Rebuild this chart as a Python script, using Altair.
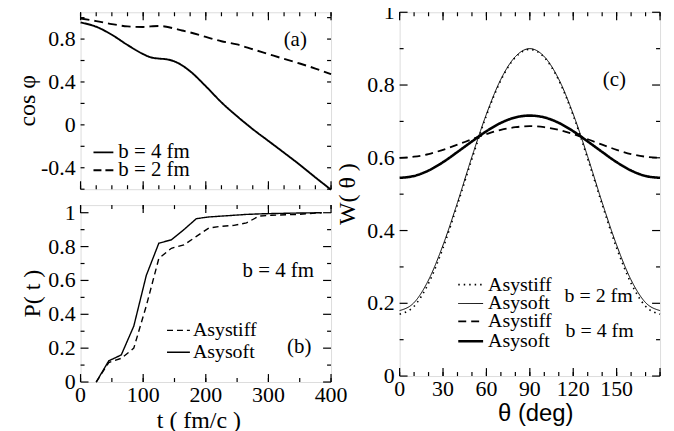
import altair as alt
import pandas as pd

SERIF = "Liberation Serif"
SANS = "Liberation Sans"

# ---------------- data ----------------
# panel (a): cos(phi) vs t
t_a = [0, 25, 50, 75, 100, 112, 125, 137, 150, 162, 175, 200, 225, 250, 275, 300, 325, 350, 375, 400]
cos_b4 = [0.955, 0.915, 0.84, 0.745, 0.66, 0.63, 0.618, 0.612, 0.592, 0.555, 0.50, 0.36, 0.21, 0.08,
          -0.04, -0.15, -0.26, -0.372, -0.49, -0.605]
cos_b2 = [0.992, 0.968, 0.94, 0.918, 0.913, 0.918, 0.922, 0.915, 0.898, 0.88, 0.862, 0.82, 0.78, 0.75,
          0.705, 0.66, 0.615, 0.572, 0.525, 0.472]

# panel (b): P(t) vs t, b = 4 fm
t_b = [25, 45, 65, 85, 105, 125, 145, 165, 185, 205, 225, 245, 265, 285, 305, 345, 385]
p_soft = [0.0, 0.125, 0.16, 0.33, 0.63, 0.82, 0.84, 0.90, 0.965, 0.975, 0.98, 0.985, 0.99, 0.993, 0.995, 0.998, 1.0]
p_stiff = [0.0, 0.115, 0.14, 0.20, 0.45, 0.73, 0.79, 0.81, 0.86, 0.91, 0.92, 0.925, 0.94, 0.98, 0.985, 0.99, 1.0]

# panel (c): W(theta) vs theta
theta = [0, 10, 20, 30, 40, 50, 60, 70, 80, 90, 100, 110, 120, 130, 140, 150, 160, 170, 180]
w_stiff_b2 = [0.170, 0.192, 0.255, 0.352, 0.471, 0.597, 0.716, 0.813, 0.876, 0.898,
              0.876, 0.813, 0.716, 0.597, 0.471, 0.352, 0.255, 0.192, 0.170]
w_soft_b2 = [0.180, 0.202, 0.264, 0.360, 0.477, 0.603, 0.720, 0.816, 0.878, 0.900,
             0.878, 0.816, 0.720, 0.603, 0.477, 0.360, 0.264, 0.202, 0.180]
w_stiff_b4 = [0.600, 0.603, 0.610, 0.622, 0.636, 0.651, 0.665, 0.677, 0.684, 0.687,
              0.684, 0.677, 0.665, 0.651, 0.636, 0.622, 0.610, 0.603, 0.600]
w_soft_b4 = [0.545, 0.550, 0.565, 0.588, 0.616, 0.645, 0.673, 0.696, 0.711, 0.716,
             0.711, 0.696, 0.673, 0.645, 0.616, 0.588, 0.565, 0.550, 0.545]

# tick values and tick labels
a_xminor = list(range(0, 401, 25))
a_xmajor = list(range(0, 401, 100))
a_yminor = [-0.6, -0.4, -0.2, 0.0, 0.2, 0.4, 0.6, 0.8, 1.0]
a_ylab_v = [-0.4, 0.0, 0.4, 0.8]
a_ylab_t = ["-0.4", "0", "0.4", "0.8"]
b_xminor = list(range(0, 401, 50))
b_xmajor = list(range(0, 401, 100))
b_xlab_t = ["0", "100", "200", "300", "400"]
b_yminor = [0.1, 0.3, 0.5, 0.7, 0.9]
b_ymajor = [0.0, 0.2, 0.4, 0.6, 0.8, 1.0]
b_ylab_t = ["0", "0.2", "0.4", "0.6", "0.8", "1"]
c_xminor = list(range(0, 181, 10))
c_xmajor = list(range(0, 181, 30))
c_xlab_v = [0, 30, 60, 90, 120, 150]
c_xlab_t = ["0", "30", "60", "90", "120", "150"]
c_yminor = [0.1, 0.3, 0.5, 0.7, 0.9]
c_ymajor = [0.0, 0.2, 0.4, 0.6, 0.8, 1.0]
c_ylab_t = ["0", "0.2", "0.4", "0.6", "0.8", "1"]

MAJ, MIN = 8, 4
LFS = 22   # tick label size
TFS = 24   # axis title size


def ticks(xvals, yvals, xmaj, ymaj, xs, ys, W, H):
    layers = []
    for vals, ln in ((xvals, MIN), (xmaj, MAJ)):
        d = pd.DataFrame({"v": vals})
        base = alt.Chart(d).mark_rule(color="black", strokeWidth=1.2)
        layers.append(base.encode(x=alt.X("v:Q", scale=xs, axis=None), y=alt.value(H), y2=alt.value(H - ln)))
        layers.append(base.encode(x=alt.X("v:Q", scale=xs, axis=None), y=alt.value(0), y2=alt.value(ln)))
    for vals, ln in ((yvals, MIN), (ymaj, MAJ)):
        if not vals:
            continue
        d = pd.DataFrame({"v": vals})
        base = alt.Chart(d).mark_rule(color="black", strokeWidth=1.2)
        layers.append(base.encode(y=alt.Y("v:Q", scale=ys, axis=None), x=alt.value(0), x2=alt.value(ln)))
        layers.append(base.encode(y=alt.Y("v:Q", scale=ys, axis=None), x=alt.value(W), x2=alt.value(W - ln)))
    return layers


def xlabels(vals, texts, xs, H, dy=13):
    d = pd.DataFrame({"v": vals, "s": texts})
    return alt.Chart(d).mark_text(align="center", baseline="middle", font=SERIF, fontSize=LFS,
                                  color="black").encode(
        x=alt.X("v:Q", scale=xs, axis=None), y=alt.value(H + dy), text="s:N")


def ylabels(vals, texts, ys, dx=-5):
    d = pd.DataFrame({"v": vals, "s": texts})
    return alt.Chart(d).mark_text(align="right", baseline="middle", font=SERIF, fontSize=LFS,
                                  color="black").encode(
        y=alt.Y("v:Q", scale=ys, axis=None), x=alt.value(dx), text="s:N")


def label(txt, x, y, align="left", size=20, font=SERIF, angle=0):
    return alt.Chart(pd.DataFrame({"t": [txt]})).mark_text(
        text=txt, align=align, baseline="middle", font=font, fontSize=size, color="black", angle=angle
    ).encode(x=alt.value(x), y=alt.value(y))


def sample(x1, x2, y, dash, width):
    return alt.Chart(pd.DataFrame({"t": [0]})).mark_rule(
        color="black", strokeWidth=width, strokeDash=dash
    ).encode(x=alt.value(x1), x2=alt.value(x2), y=alt.value(y))


def line(t, v, xs, ys, dash, width, interp="monotone"):
    d = pd.DataFrame({"t": t, "v": v})
    return alt.Chart(d).mark_line(color="black", strokeWidth=width, strokeDash=dash, interpolate=interp).encode(
        x=alt.X("t:Q", scale=xs, axis=None), y=alt.Y("v:Q", scale=ys, axis=None))


# ---------------- panel (a) ----------------
WA, HA = 252, 178
xa = alt.Scale(domain=[0, 400], nice=False, zero=False)
ya = alt.Scale(domain=[-0.6, 1.05], nice=False, zero=False)
pa = alt.layer(
    line(t_a, cos_b4, xa, ya, [1, 0], 1.9),
    line(t_a, cos_b2, xa, ya, [9, 5], 1.9),
    *ticks(a_xminor, a_yminor, a_xmajor, [], xa, ya, WA, HA),
    ylabels(a_ylab_v, a_ylab_t, ya),
    label("cos  φ", -53, HA / 2, align="center", size=TFS, angle=270),
    sample(13, 33, 141, [1, 0], 1.9), label("b = 4 fm", 38, 141, size=21),
    sample(13, 33, 159, [8, 4], 1.9), label("b = 2 fm", 38, 159, size=21),
    label("(a)", 216, 28, align="center", size=21),
).properties(width=WA, height=HA)

# ---------------- panel (b) ----------------
WB, HB = 252, 178
xb = alt.Scale(domain=[0, 400], nice=False, zero=False)
yb = alt.Scale(domain=[0, 1.045], nice=False, zero=False)
pb = alt.layer(
    line(t_b, p_stiff, xb, yb, [6, 4], 1.4, "linear"),
    line(t_b, p_soft, xb, yb, [1, 0], 1.4, "linear"),
    *ticks(b_xminor, b_yminor, b_xmajor, b_ymajor, xb, yb, WB, HB),
    xlabels(b_xmajor, b_xlab_t, xb, HB),
    ylabels(b_ymajor, b_ylab_t, yb),
    label("P( t )", -48, HB / 2, align="center", size=TFS, angle=270),
    label("t ( fm/c )", 119, HB + 39, align="center", size=TFS),
    sample(87, 110, 126, [6, 4], 1.4), label("Asystiff", 113, 126),
    sample(87, 110, 148, [1, 0], 1.4), label("Asysoft", 113, 148),
    label("(b)", 220, 143, align="center", size=21),
    label("b = 4 fm", 163, 66, size=21),
).properties(width=WB, height=HB)

# ---------------- panel (c) ----------------
WC, HC = 262, 366
xc = alt.Scale(domain=[0, 180], nice=False, zero=False)
yc = alt.Scale(domain=[0, 1], nice=False, zero=False)
pc = alt.layer(
    line(theta, w_soft_b4, xc, yc, [1, 0], 2.6),
    line(theta, w_stiff_b4, xc, yc, [8, 5], 1.8),
    line(theta, w_soft_b2, xc, yc, [1, 0], 1.0),
    line(theta, w_stiff_b2, xc, yc, [1.5, 4], 1.6),
    *ticks(c_xminor, c_yminor, c_xmajor, c_ymajor, xc, yc, WC, HC),
    xlabels(c_xlab_v, c_xlab_t, xc, HC),
    ylabels(c_ymajor, c_ylab_t, yc),
    label("W( θ )", -52, HC / 2, align="center", size=TFS, angle=270),
    label("θ  (deg)", 137, HC + 38, align="center", size=TFS, font=SANS),
    sample(59, 84, 274, [1.5, 4], 1.6), label("Asystiff", 89, 274),
    sample(59, 84, 293, [1, 0], 1.0), label("Asysoft", 89, 293),
    sample(59, 84, 311, [8, 5], 1.8), label("Asystiff", 89, 311),
    sample(59, 84, 331, [1, 0], 2.6), label("Asysoft", 89, 331),
    label("b = 2 fm", 166, 285), label("b = 4 fm", 167, 321),
    label("(c)", 216, 68, align="center", size=21),
).properties(width=WC, height=HC)

left = alt.vconcat(pa, pb, spacing=7)
chart = alt.hconcat(left, pc, spacing=-13).properties(
    padding={"left": 7, "top": -9, "right": 0, "bottom": 0},
).configure_view(stroke="black", strokeWidth=1.5).configure(background="white")

chart.save("out.html", embed_options={"renderer": "svg", "actions": False})
